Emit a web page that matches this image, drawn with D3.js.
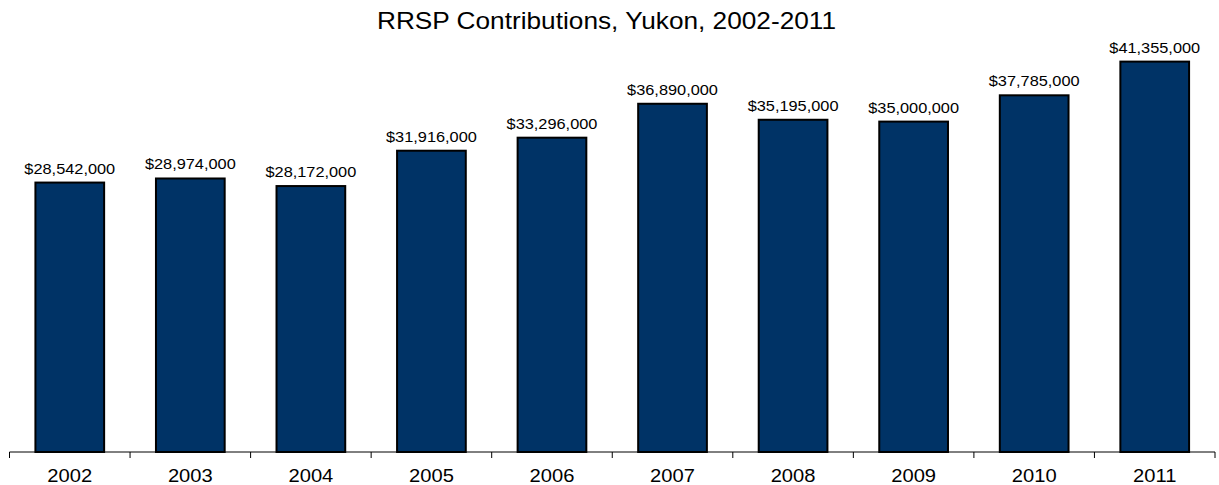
<!DOCTYPE html>
<html>
<head>
<meta charset="utf-8">
<script src="https://cdn.jsdelivr.net/npm/d3@7"></script>
<style>
  body { margin: 0; background: #fff; }
  text { font-family: "Liberation Sans", Arial, sans-serif; fill: #000; }
</style>
</head>
<body>
<svg class="chart"></svg>
<script>
const years = ['2002', '2003', '2004', '2005', '2006', '2007', '2008', '2009', '2010', '2011'];
const contributions = [28542000, 28974000, 28172000, 31916000, 33296000, 36890000, 35195000, 35000000, 37785000, 41355000];
const title = 'RRSP Contributions, Yukon, 2002-2011';

const width = 1219,
  height = 485,
  margins = { left: 9.5, right: 4, baseline: 452 };

const svg = d3.select('.chart')
  .attr('width', width)
  .attr('height', height);

const xScale = d3.scaleBand()
  .domain(years)
  .range([margins.left, width - margins.right])
  .paddingInner(0.43)
  .paddingOuter(0.215);

const yScale = d3.scaleLinear()
  .domain([0, 45000000])
  .range([margins.baseline, margins.baseline - 45000000 * 9.44e-6]);

const fmt = d3.format('$,');

// text in the reference is drawn a bit wider than Liberation Sans
function label(parent, x, y, size, sx, str) {
  parent.append('g')
    .attr('transform', 'translate(' + x + ',' + y + ') scale(' + sx + ',1)')
    .append('text')
    .style('text-anchor', 'middle')
    .style('font-size', size + 'px')
    .text(str);
}

svg.selectAll('rect.bar')
  .data(years)
  .enter().append('rect')
  .attr('class', 'bar')
  .attr('x', d => xScale(d))
  .attr('width', xScale.bandwidth())
  .attr('y', (d, i) => yScale(contributions[i]))
  .attr('height', (d, i) => yScale(0) - yScale(contributions[i]))
  .style('fill', '#003366')
  .style('stroke', '#000')
  .style('stroke-width', 2);

const values = svg.append('g');
years.forEach((d, i) => {
  label(values, xScale(d) + xScale.bandwidth() / 2, yScale(contributions[i]) - 9, 15, 1.09, fmt(contributions[i]));
});

// category axis: ticks between the bands
const edges = d3.range(years.length + 1).map(i => margins.left + i * ((width - margins.right - margins.left) / years.length));

const axis = svg.append('g');
axis.append('line')
  .attr('x1', edges[0]).attr('x2', edges[edges.length - 1])
  .attr('y1', margins.baseline).attr('y2', margins.baseline)
  .style('stroke', '#000').style('stroke-width', 1);
axis.selectAll('line.tick')
  .data(edges)
  .enter().append('line')
  .attr('class', 'tick')
  .attr('x1', d => d).attr('x2', d => d)
  .attr('y1', margins.baseline).attr('y2', margins.baseline + 6)
  .style('stroke', '#000').style('stroke-width', 1);
years.forEach(d => {
  label(axis, xScale(d) + xScale.bandwidth() / 2, 482, 18, 1.12, d);
});

label(svg, 606.5, 29, 23, 1.14, title);
</script>
</body>
</html>
